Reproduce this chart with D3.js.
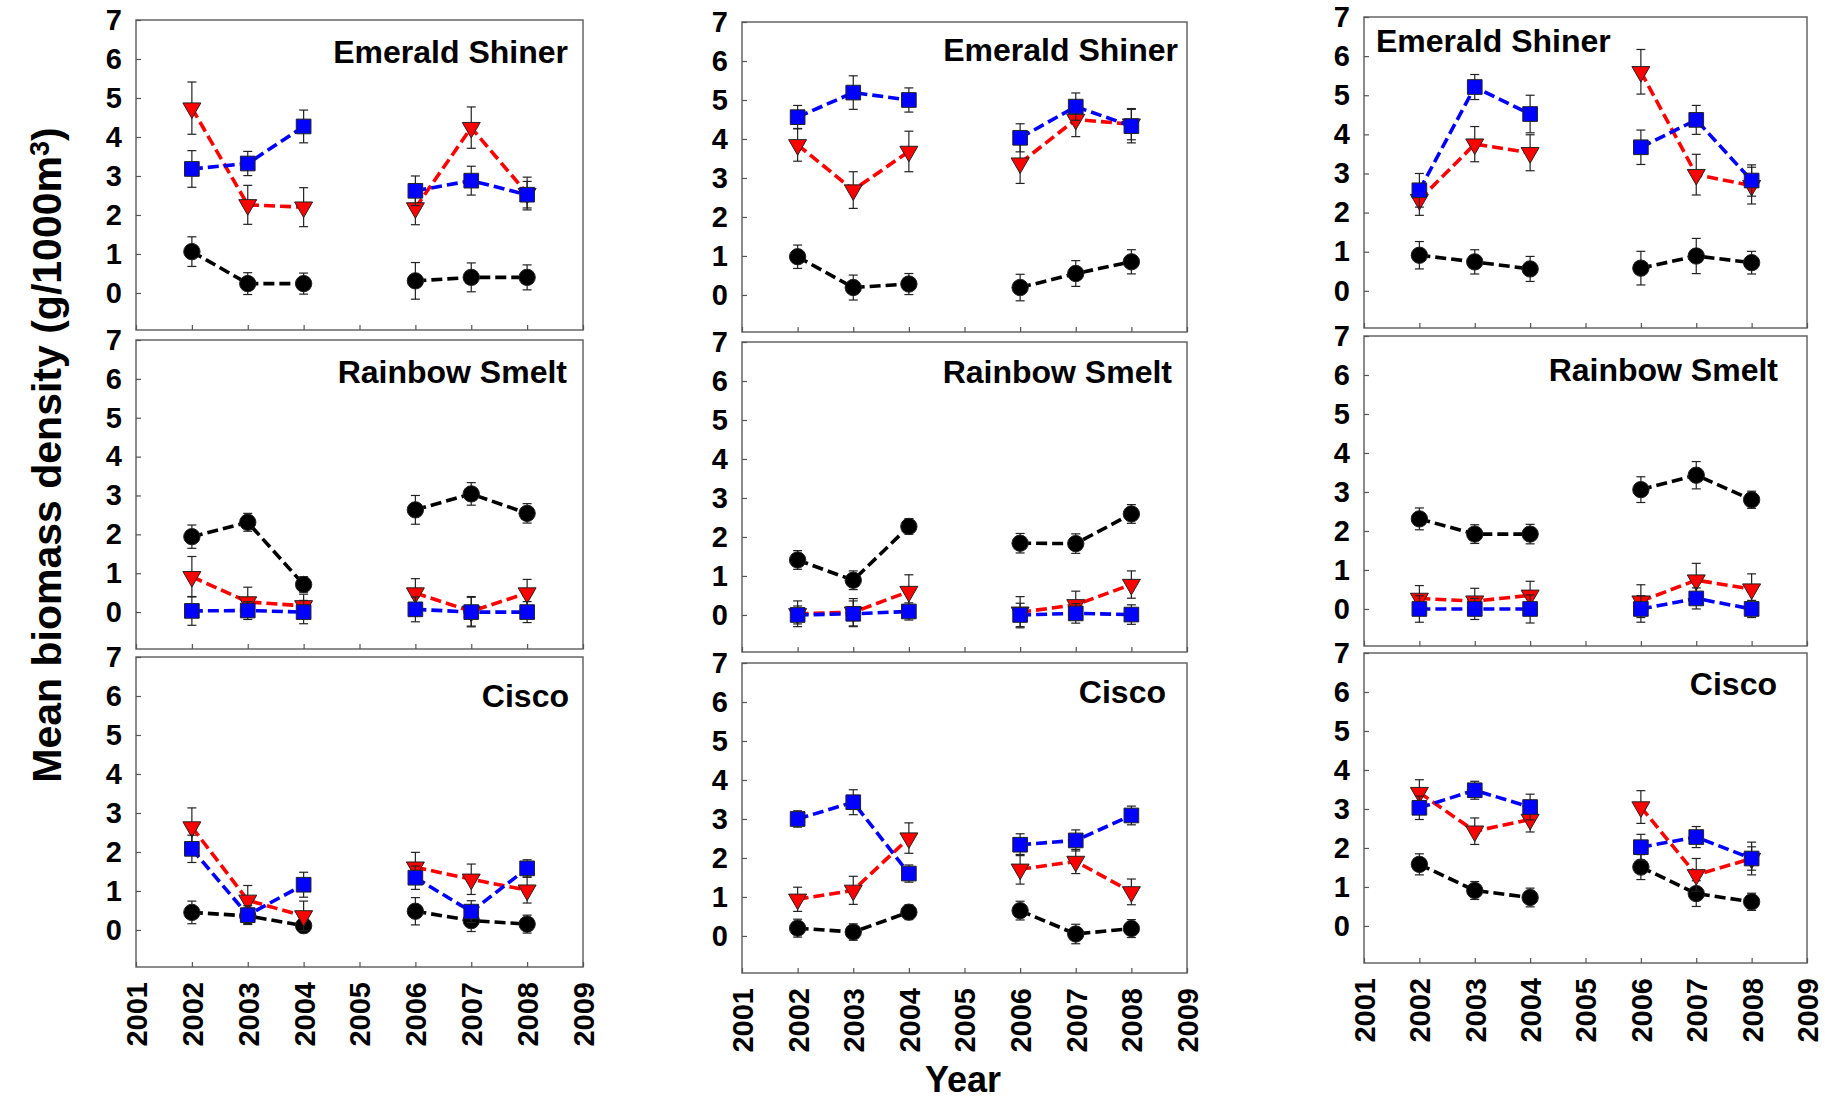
<!DOCTYPE html>
<html>
<head>
<meta charset="utf-8">
<script src="https://cdn.jsdelivr.net/npm/d3@7"></script>
<style>
  html, body { margin: 0; padding: 0; background: #fff; }
  svg { display: block; }
  text { font-family: "Liberation Sans", Arial, sans-serif; font-weight: bold; fill: #000; }
</style>
</head>
<body>
<svg id="chart" width="1825" height="1103"></svg>
<script>
// ---------------- DATA ----------------
const years = [2002, 2003, 2004, 2005, 2006, 2007, 2008];
const xTickValues = [2001, 2002, 2003, 2004, 2005, 2006, 2007, 2008, 2009];
const yTickValues = [0, 1, 2, 3, 4, 5, 6, 7];
const species = ["Emerald Shiner", "Rainbow Smelt", "Cisco"];
const seriesNames = ["black", "red", "blue"];

// Column 1
const c1_shiner_black   = [1.06, 0.24, 0.24, null, 0.31, 0.40, 0.40];
const c1_shiner_black_se= [0.38, 0.28, 0.27, null, 0.47, 0.37, 0.32];
const c1_shiner_red     = [4.74, 2.26, 2.20, null, 2.18, 4.24, 2.55];
const c1_shiner_red_se  = [0.67, 0.50, 0.50, null, 0.43, 0.53, 0.42];
const c1_shiner_blue    = [3.18, 3.32, 4.27, null, 2.62, 2.88, 2.52];
const c1_shiner_blue_se = [0.47, 0.31, 0.42, null, 0.38, 0.37, 0.34];

const c1_smelt_black    = [1.94, 2.31, 0.71, null, 2.63, 3.04, 2.54];
const c1_smelt_black_se = [0.30, 0.23, 0.20, null, 0.37, 0.29, 0.25];
const c1_smelt_red      = [0.91, 0.26, 0.16, null, 0.49, 0.02, 0.49];
const c1_smelt_red_se   = [0.52, 0.38, 0.30, null, 0.37, 0.38, 0.35];
const c1_smelt_blue     = [0.03, 0.04, 0.00, null, 0.07, 0.00, 0.00];
const c1_smelt_blue_se  = [0.37, 0.23, 0.30, null, 0.32, 0.38, 0.27];

const c1_cisco_black    = [0.45, 0.36, 0.11, null, 0.48, 0.24, 0.15];
const c1_cisco_black_se = [0.29, 0.20, 0.18, null, 0.35, 0.28, 0.23];
const c1_cisco_red      = [2.64, 0.76, 0.36, null, 1.61, 1.30, 1.02];
const c1_cisco_red_se   = [0.49, 0.38, 0.38, null, 0.38, 0.39, 0.33];
const c1_cisco_blue     = [2.08, 0.38, 1.16, null, 1.34, 0.47, 1.58];
const c1_cisco_blue_se  = [0.35, 0.24, 0.32, null, 0.30, 0.28, 0.22];

// Column 2
const c2_shiner_black   = [0.98, 0.19, 0.28, null, 0.19, 0.55, 0.85];
const c2_shiner_black_se= [0.30, 0.32, 0.27, null, 0.34, 0.33, 0.31];
const c2_shiner_red     = [3.85, 2.69, 3.68, null, 3.38, 4.50, 4.38];
const c2_shiner_red_se  = [0.42, 0.47, 0.52, null, 0.52, 0.44, 0.40];
const c2_shiner_blue    = [4.56, 5.19, 5.00, null, 4.03, 4.83, 4.33];
const c2_shiner_blue_se = [0.30, 0.43, 0.31, null, 0.36, 0.35, 0.43];

const c2_smelt_black    = [1.41, 0.89, 2.27, null, 1.84, 1.83, 2.59];
const c2_smelt_black_se = [0.24, 0.24, 0.20, null, 0.25, 0.25, 0.24];
const c2_smelt_red      = [0.03, 0.07, 0.60, null, 0.07, 0.26, 0.78];
const c2_smelt_red_se   = [0.33, 0.35, 0.43, null, 0.40, 0.35, 0.35];
const c2_smelt_blue     = [0.00, 0.03, 0.09, null, 0.00, 0.04, 0.01];
const c2_smelt_blue_se  = [0.23, 0.33, 0.22, null, 0.30, 0.25, 0.25];

const c2_cisco_black    = [0.20, 0.10, 0.61, null, 0.65, 0.05, 0.19];
const c2_cisco_black_se = [0.23, 0.21, 0.19, null, 0.24, 0.25, 0.23];
const c2_cisco_red      = [0.94, 1.17, 2.51, null, 1.71, 1.91, 1.13];
const c2_cisco_red_se   = [0.31, 0.36, 0.39, null, 0.38, 0.31, 0.33];
const c2_cisco_blue     = [3.00, 3.43, 1.60, null, 2.34, 2.45, 3.09];
const c2_cisco_blue_se  = [0.21, 0.32, 0.22, null, 0.28, 0.27, 0.24];

// Column 3
const c3_shiner_black   = [0.91, 0.74, 0.56, null, 0.58, 0.89, 0.72];
const c3_shiner_black_se= [0.35, 0.31, 0.32, null, 0.43, 0.45, 0.29];
const c3_shiner_red     = [2.33, 3.75, 3.53, null, 5.60, 2.97, 2.69];
const c3_shiner_red_se  = [0.40, 0.45, 0.46, null, 0.57, 0.52, 0.47];
const c3_shiner_blue    = [2.57, 5.21, 4.52, null, 3.67, 4.37, 2.82];
const c3_shiner_blue_se = [0.43, 0.32, 0.48, null, 0.44, 0.37, 0.40];

const c3_smelt_black    = [2.31, 1.92, 1.92, null, 3.06, 3.43, 2.80];
const c3_smelt_black_se = [0.28, 0.24, 0.25, null, 0.33, 0.35, 0.22];
const c3_smelt_red      = [0.27, 0.20, 0.35, null, 0.20, 0.74, 0.51];
const c3_smelt_red_se   = [0.33, 0.33, 0.36, null, 0.42, 0.43, 0.39];
const c3_smelt_blue     = [0.00, 0.00, 0.00, null, 0.00, 0.27, 0.00];
const c3_smelt_blue_se  = [0.34, 0.27, 0.36, null, 0.34, 0.27, 0.22];

const c3_cisco_black    = [1.58, 0.91, 0.73, null, 1.51, 0.83, 0.62];
const c3_cisco_black_se = [0.27, 0.23, 0.24, null, 0.32, 0.33, 0.22];
const c3_cisco_red      = [3.42, 2.43, 2.73, null, 3.05, 1.31, 1.73];
const c3_cisco_red_se   = [0.33, 0.34, 0.32, null, 0.42, 0.42, 0.42];
const c3_cisco_blue     = [3.03, 3.48, 3.05, null, 2.02, 2.28, 1.73];
const c3_cisco_blue_se  = [0.30, 0.23, 0.33, null, 0.33, 0.27, 0.30];

const yAxisTitle = "Mean biomass density (g/1000m";
const xAxisTitle = "Year";

// ---------------- LAYOUT (positions & styles) ----------------
const colX = [[136, 583], [742, 1187], [1364, 1807]];
const rowY = [
  [[20, 330], [340, 649], [657, 967]],
  [[22, 332], [342, 652], [663, 973]],
  [[17, 328], [336, 646], [653, 963]]
];
// title placement: [anchor, x, baseline y]
const titlePos = [
  [["end", 568, 63], ["end", 567, 383], ["end", 569, 707]],
  [["end", 1178, 61], ["end", 1172, 383], ["end", 1166, 703]],
  [["start", 1376, 52], ["end", 1778, 381], ["end", 1777, 695]]
];
const yDomain = [-0.95, 7];
const style = {
  black: { color: "#000000", fill: "#000000", symbol: d3.symbolCircle, size: 210, rotate: 0 },
  red:   { color: "#ff0000", fill: "#ff0000", symbol: d3.symbolTriangle, size: 140, rotate: 180 },
  blue:  { color: "#0000ff", fill: "#0000ff", symbol: d3.symbolSquare, size: 215, rotate: 0 }
};

// ---------------- BUILD PANELS ----------------
const table = {
  c1: {
    "Emerald Shiner": { black: [c1_shiner_black, c1_shiner_black_se], red: [c1_shiner_red, c1_shiner_red_se], blue: [c1_shiner_blue, c1_shiner_blue_se] },
    "Rainbow Smelt":  { black: [c1_smelt_black, c1_smelt_black_se],   red: [c1_smelt_red, c1_smelt_red_se],     blue: [c1_smelt_blue, c1_smelt_blue_se] },
    "Cisco":          { black: [c1_cisco_black, c1_cisco_black_se],   red: [c1_cisco_red, c1_cisco_red_se],     blue: [c1_cisco_blue, c1_cisco_blue_se] }
  },
  c2: {
    "Emerald Shiner": { black: [c2_shiner_black, c2_shiner_black_se], red: [c2_shiner_red, c2_shiner_red_se], blue: [c2_shiner_blue, c2_shiner_blue_se] },
    "Rainbow Smelt":  { black: [c2_smelt_black, c2_smelt_black_se],   red: [c2_smelt_red, c2_smelt_red_se],     blue: [c2_smelt_blue, c2_smelt_blue_se] },
    "Cisco":          { black: [c2_cisco_black, c2_cisco_black_se],   red: [c2_cisco_red, c2_cisco_red_se],     blue: [c2_cisco_blue, c2_cisco_blue_se] }
  },
  c3: {
    "Emerald Shiner": { black: [c3_shiner_black, c3_shiner_black_se], red: [c3_shiner_red, c3_shiner_red_se], blue: [c3_shiner_blue, c3_shiner_blue_se] },
    "Rainbow Smelt":  { black: [c3_smelt_black, c3_smelt_black_se],   red: [c3_smelt_red, c3_smelt_red_se],     blue: [c3_smelt_blue, c3_smelt_blue_se] },
    "Cisco":          { black: [c3_cisco_black, c3_cisco_black_se],   red: [c3_cisco_red, c3_cisco_red_se],     blue: [c3_cisco_blue, c3_cisco_blue_se] }
  }
};

const svg = d3.select("#chart");
svg.append("rect").attr("width", 1825).attr("height", 1103).attr("fill", "#fff");

["c1", "c2", "c3"].forEach((colKey, ci) => {
  species.forEach((sp, ri) => {
    const [x0, x1] = colX[ci];
    const [y0, y1] = rowY[ci][ri];
    const x = d3.scaleLinear().domain([2001, 2009]).range([x0, x1]);
    const y = d3.scaleLinear().domain(yDomain).range([y1, y0]);
    const g = svg.append("g");

    // frame
    g.append("rect")
      .attr("x", x0).attr("y", y0).attr("width", x1 - x0).attr("height", y1 - y0)
      .attr("fill", "none").attr("stroke", "#666").attr("stroke-width", 1.5);

    // y axis
    const ya = g.append("g").attr("transform", `translate(${x0},0)`)
      .call(d3.axisLeft(y).tickValues(yTickValues).tickSize(-5).tickPadding(14).tickFormat(d3.format("d")));
    ya.select(".domain").remove();
    ya.selectAll(".tick line").attr("stroke", "#555").attr("stroke-width", 1.2);
    ya.selectAll("text").style("font-size", "29px").attr("font-family", null).attr("fill", "#000");

    // x axis
    const xa = g.append("g").attr("transform", `translate(0,${y1})`)
      .call(d3.axisBottom(x).tickValues(xTickValues).tickSize(-5).tickFormat(d3.format("d")));
    xa.select(".domain").remove();
    xa.selectAll(".tick line").attr("stroke", "#555").attr("stroke-width", 1.2);
    if (ri === 2) {
      xa.selectAll("text")
        .attr("transform", "rotate(-90)")
        .attr("x", -15).attr("y", 0).attr("dy", "0.36em")
        .style("text-anchor", "end").style("font-size", "29px")
        .attr("font-family", null).attr("fill", "#000");
    } else {
      xa.selectAll("text").remove();
    }

    // series
    seriesNames.forEach(sn => {
      const [vals, ses] = table[colKey][sp][sn];
      const st = style[sn];
      const pts = years.map((yr, i) => ({ yr, v: vals[i], se: ses[i] }));
      const valid = pts.filter(p => p.v != null);

      // error bars
      const eb = g.append("g").attr("stroke", "#222").attr("stroke-width", 1.2).attr("fill", "none");
      valid.forEach(p => {
        const cx = x(p.yr), ty = y(p.v + p.se), by = y(p.v - p.se);
        eb.append("line").attr("x1", cx).attr("x2", cx).attr("y1", ty).attr("y2", by);
        eb.append("line").attr("x1", cx - 4.5).attr("x2", cx + 4.5).attr("y1", ty).attr("y2", ty);
        eb.append("line").attr("x1", cx - 4.5).attr("x2", cx + 4.5).attr("y1", by).attr("y2", by);
      });

      // dashed line
      const line = d3.line().defined(p => p.v != null).x(p => x(p.yr)).y(p => y(p.v));
      g.append("path").datum(pts)
        .attr("d", line)
        .attr("fill", "none").attr("stroke", st.color)
        .attr("stroke-width", 3.6).attr("stroke-dasharray", "11,5");

      // markers
      g.selectAll(null).data(valid).enter().append("path")
        .attr("d", d3.symbol().type(st.symbol).size(st.size))
        .attr("transform", p => `translate(${x(p.yr)},${y(p.v)}) rotate(${st.rotate})`)
        .attr("fill", st.fill).attr("stroke", "#222").attr("stroke-width", 1);
    });

    // title
    const tp = titlePos[ci][ri];
    g.append("text").attr("x", tp[1]).attr("y", tp[2])
      .attr("text-anchor", tp[0]).style("font-size", "32px").text(sp);
  });
});

// axis titles
const yt = svg.append("text")
  .attr("transform", "translate(61,455) rotate(-90)")
  .attr("text-anchor", "middle").style("font-size", "41px");
yt.append("tspan").text(yAxisTitle);
yt.append("tspan").attr("dy", "-0.45em").style("font-size", "27px").text("3");
yt.append("tspan").attr("dy", "0.3em").text(")");

svg.append("text").attr("x", 963).attr("y", 1092).attr("text-anchor", "middle")
  .style("font-size", "36px").text(xAxisTitle);
</script>
</body>
</html>
